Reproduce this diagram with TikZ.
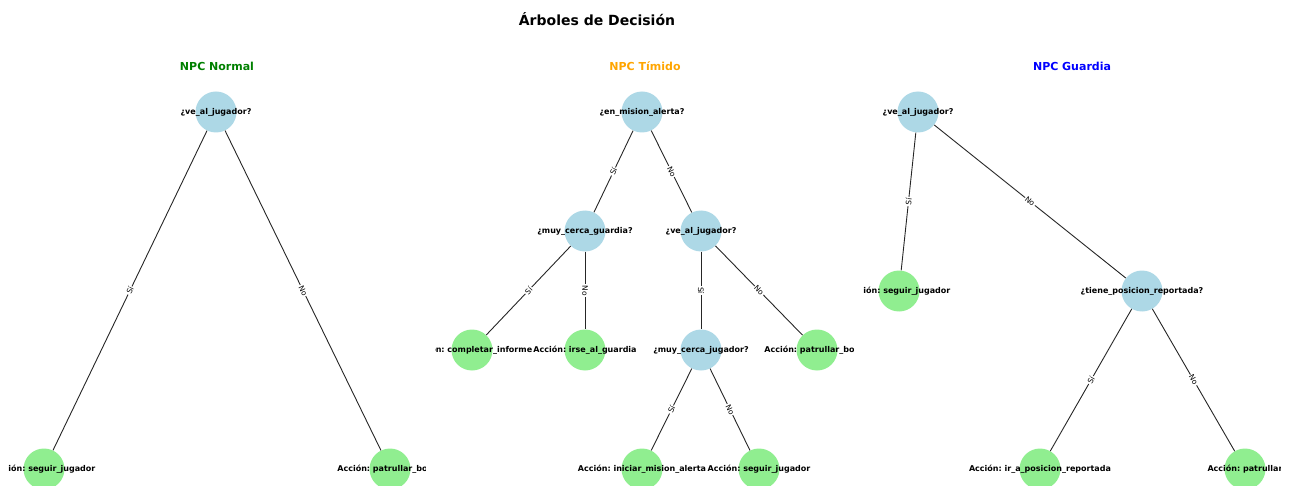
\documentclass[tikz,border=0pt]{standalone}
\usepackage{fontspec}
\setmainfont{DejaVu Sans}
\frenchspacing
\definecolor{qblue}{RGB}{173,216,230}
\definecolor{agreen}{RGB}{144,238,144}
\definecolor{tgreen}{RGB}{0,128,0}
\definecolor{torange}{RGB}{255,165,0}
\definecolor{tblue}{RGB}{0,0,255}
\tikzset{
  qnode/.style={circle, fill=qblue, minimum size=41pt, inner sep=0pt},
  anode/.style={circle, fill=agreen, minimum size=41pt, inner sep=0pt},
  lbl/.style={font=\fontsize{8}{9}\selectfont\bfseries, inner sep=0pt, text=black},
  edgeline/.style={draw=black!85, line width=0.9pt},
  elbl/.style={midway, sloped, fill=white, inner sep=1pt, font=\fontsize{7.5}{8}\selectfont},
  ptitle/.style={font=\fontsize{11}{13}\selectfont\bfseries},
}
\begin{document}
\begin{tikzpicture}[x=1pt,y=-1pt]
\useasboundingbox (0,0) rectangle (1289,486);
\node[font=\fontsize{14}{16}\selectfont\bfseries] (title) at (597,19) {Árboles de Decisión};
\node[ptitle, text=tgreen] (t1) at (217,66) {NPC Normal};
\node[ptitle, text=torange] (t2) at (645,66) {NPC Tímido};
\node[ptitle, text=tblue] (t3) at (1072,66) {NPC Guardia};
% Panel 1
\begin{scope}
\clip (8.6,80) rectangle (425,486);
\node[qnode, label={[lbl]center:¿ve\_al\_jugador?}] (a1) at (216,112) {};
\node[anode, label={[lbl]center:Acción: seguir\_jugador}] (a2) at (44,469) {};
\node[anode, label={[lbl]center:Acción: patrullar\_borde}] (a3) at (390,469) {};
\draw[edgeline] (a1) -- node[elbl]{Sí} (a2);
\draw[edgeline] (a1) -- node[elbl]{No} (a3);
\end{scope}
% Panel 2
\begin{scope}
\clip (435.5,80) rectangle (853.5,486);
\node[qnode, label={[lbl]center:¿en\_mision\_alerta?}] (b1) at (642,112) {};
\node[qnode, label={[lbl]center:¿muy\_cerca\_guardia?}] (b2) at (585,231) {};
\node[qnode, label={[lbl]center:¿ve\_al\_jugador?}] (b3) at (701,231) {};
\node[anode, label={[lbl]center:Acción: completar\_informe}] (b4) at (472,350) {};
\node[anode, label={[lbl]center:Acción: irse\_al\_guardia}] (b5) at (585,350) {};
\node[qnode, label={[lbl]center:¿muy\_cerca\_jugador?}] (b6) at (701,350) {};
\node[anode, label={[lbl]center:Acción: patrullar\_borde}] (b7) at (817,350) {};
\node[anode, label={[lbl]center:Acción: iniciar\_mision\_alerta}] (b8) at (642,469) {};
\node[anode, label={[lbl]center:Acción: seguir\_jugador}] (b9) at (759,469) {};
\draw[edgeline] (b1) -- node[elbl]{Sí} (b2);
\draw[edgeline] (b1) -- node[elbl]{No} (b3);
\draw[edgeline] (b2) -- node[elbl]{Sí} (b4);
\draw[edgeline] (b2) -- node[elbl]{No} (b5);
\draw[edgeline] (b3) -- node[elbl]{Sí} (b6);
\draw[edgeline] (b3) -- node[elbl]{No} (b7);
\draw[edgeline] (b6) -- node[elbl]{Sí} (b8);
\draw[edgeline] (b6) -- node[elbl]{No} (b9);
\end{scope}
% Panel 3
\begin{scope}
\clip (863,80) rectangle (1280,486);
\node[qnode, label={[lbl]center:¿ve\_al\_jugador?}] (c1) at (918,112) {};
\node[anode, label={[lbl]center:Acción: seguir\_jugador}] (c2) at (899,291) {};
\node[qnode, label={[lbl]center:¿tiene\_posicion\_reportada?}] (c3) at (1142,291) {};
\node[anode, label={[lbl]center:Acción: ir\_a\_posicion\_reportada}] (c4) at (1040,469) {};
\node[anode, label={[lbl]center:Acción: patrullar}] (c5) at (1245,469) {};
\draw[edgeline] (c1) -- node[elbl]{Sí} (c2);
\draw[edgeline] (c1) -- node[elbl]{No} (c3);
\draw[edgeline] (c3) -- node[elbl]{Sí} (c4);
\draw[edgeline] (c3) -- node[elbl]{No} (c5);
\end{scope}
\end{tikzpicture}
\end{document}
